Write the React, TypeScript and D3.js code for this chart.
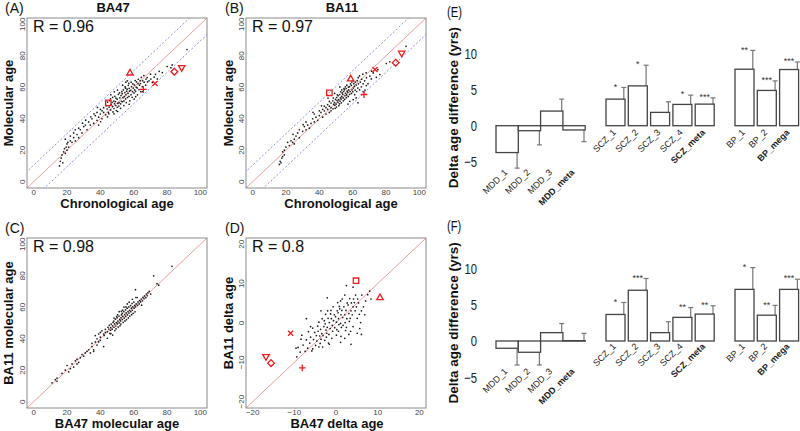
import React from 'react';
import * as d3 from 'd3';

const FONT = '"Liberation Sans", Arial, Helvetica, sans-serif';

// ---------- scatter data ----------
// Panel A: chronological age vs BA47 molecular age
const aPoints: [number, number][] = [
  [15.5,10],[16,13],[16.5,15],[17,17],[17.5,12],[18,19],[18.5,21],[19,18],[19,27],[19.5,22],[20,20],[20,24],[20.5,25],[21,22],[22,26],[22,29],[23,25],[24,28],[24,31],[25,26],[25,33],[26,30],[27,34],[27,28],[28,33],[29,31],[30,35],
  [31,36],[32,33],[33,38],[34,36],[35,40],[36,37],[37,42],[38,39],[38,44],[39,41],[39,36],[40,43],[40,46],[41,40],[41,45],[42,44],[42,47],
  [43.2,42.5],[43.6,48.3],[44.1,46.2],[44.4,50.6],[44.8,44.1],[45.3,47.4],[45.1,43.2],[45.7,51.5],[46.2,45.6],[46.5,49.1],[46.1,52.7],[47.3,47.8],[47.1,50.4],[47.6,44.3],[47.4,53.6],[48.2,46.5],[48.5,49.6],[48.1,51.2],[48.7,54.3],[49.3,48.4],[49.1,50.9],[49.6,45.2],[49.4,53.1],[50.2,47.3],[50.5,49.7],[50.1,52.4],[50.8,55.5],[50.4,44.6],[51.3,50.2],[51.7,53.3],[51.1,48.1],[51.5,56.4],[52.2,49.5],[52.6,51.1],[52.4,54.7],[52.9,57.2],[52.1,46.6],[53.3,50.8],[53.6,53.4],[53.1,55.9],[53.8,58.3],[54.2,51.3],[54.5,54.1],[54.7,56.6],[54.1,48.4],[54.9,60.2],[55.2,52.6],[55.4,55.2],[55.8,57.5],[55.1,59.4],[55.6,50.3],[56.3,53.5],[56.6,56.1],[56.1,58.8],[56.8,61.2],[57.2,54.2],[57.5,57.6],[57.3,59.3],[57.7,51.4],[57.1,62.5],[58.4,55.3],[58.2,58.1],[58.7,60.4],[58.5,63.2],[59.1,53.6],[59.3,57.2],[59.8,59.5],[59.5,62.1],[60.2,56.4],[60.6,58.3],[60.4,61.5],[60.9,64.3],[60.3,52.5],[61.2,57.4],[61.5,60.1],[61.7,63.4],[62.3,55.2],[62.1,59.6],[62.6,62.3],[62.8,65.1],[63.2,58.5],[63.5,61.3],[63.9,64.2],
  [64.3,57.2],[64.1,62.4],[64.6,66.3],[65.2,60.4],[65.4,64.1],[66.3,63.2],[66.1,67.4],[67.2,61.3],[67.4,65.2],[68.3,63.4],[68.1,66.2],[69.2,64.1],[70.3,65.2],[70.1,68.3],[71.2,63.1],[72.3,66.4],[73.1,68.2],[74.2,65.3],[75.3,70.1],[77.2,69.3],[80.1,73.2],[82.3,72.4],[83.1,74.2],[92,84],
  [56.2,64.1],[55.3,63.2],[53.4,61.3],[50.3,58.2],[48.4,57.1],[46.3,55.2],[43.2,51.3],[38.3,47.2],[36.2,43.1],[34.3,41.2],[31.2,39.1],[29.3,37.2],[40.2,38.1],[44.3,41.2],[48.2,43.1],[57.3,49.2],[61.2,54.1],[65.3,57.2]
];
// Panel B: chronological age vs BA11 molecular age
const bPoints: [number, number][] = [
  [16,11],[16.5,13],[17,12],[17.5,15],[18,16],[18,19],[19,20],[19,17],[20,22],[21,25],[22,23],[23,26],[24,25],[25,27],[25,24],[26,29],[27,31],[28,28],[28,33],[30,32],[31,35],[32,33],[32,38],[33,36],[34,34],[35,37],[36,40],[37,38],[37,43],[38,41],[39,39],[40,42],[40,45],[41,44],[42,41],[42,46],[43,45],[43,48],[44,43],[44,47],[45,46],[45,49],[46,44],[46,48],[46,51],[47,47],[47,50],[47,45],
  [48.2,46.3],[48.6,49.2],[48.1,51.4],[48.4,53.1],[49.3,48.5],[49.1,50.2],[49.7,52.3],[49.5,46.6],[50.3,47.4],[50.1,49.3],[50.6,51.6],[50.4,53.5],[50.8,55.2],[51.2,50.4],[51.5,52.1],[51.3,54.6],[51.7,48.3],[52.1,49.5],[52.4,51.2],[52.6,53.3],[52.2,55.4],[52.8,57.1],[53.1,52.5],[53.4,54.2],[53.7,56.4],[53.2,50.1],[53.5,58.3],[54.3,53.2],[54.1,55.5],[54.6,57.3],[54.4,51.4],[54.8,59.1],[55.2,52.3],[55.4,54.6],[55.7,56.2],[55.1,58.4],[55.6,60.3],[56.2,53.4],[56.4,55.1],[56.7,57.5],[56.1,59.2],[56.5,61.3],[57.3,54.2],[57.1,56.6],[57.6,58.3],[57.4,60.1],[58.2,55.5],[58.5,57.3],[58.1,60.4],[58.7,62.2],[59.3,56.1],[59.6,58.4],[59.2,61.2],[59.5,63.3],[60.1,57.2],[60.4,59.5],[60.7,62.3],[60.3,64.1],[61.2,55.3],[61.5,58.2],[61.1,60.5],[61.6,63.2],[62.4,57.3],[62.2,61.4],[62.7,64.2],[63.1,59.5],[63.5,62.2],[63.3,66.1],[64.2,58.4],[64.6,63.3],[64.1,67.2],
  [65.2,60.3],[65.4,65.1],[66.3,62.2],[66.1,68.3],[67.2,64.1],[67.4,58.2],[68.3,66.1],[68.1,69.2],[69.2,62.3],[70.3,67.1],[71.2,65.3],[71.4,70.2],[72.3,69.1],[74.2,66.3],[75.1,71.2],[76.3,68.1],[80.2,75.1],[82.3,76.2],[92,86],
  [63.2,50.1],[60.3,52.2],[57.2,49.3],[62.1,53.2],[58.3,51.1],[45.2,53.1],[41.3,48.2],[36.2,44.1],[30.3,36.2],[24.2,30.1],[52.3,60.2],[49.2,56.1],[66.3,57.2],[68.2,61.1]
];
// Panel C: BA47 molecular age vs BA11 molecular age
const cPoints: [number, number][] = [
  [11,12],[13,14],[14,15],[14,13],[17,18],[19,20],[20,23],[21,19],[22,21],[23,24],[24,22],[25,26],[26,27],[26,24],[27,25],[28,28],[29,30],[30,29],[31,31],[32,32],[33,33],[34,31],[35,35],[35,37],[36,33],[36,32],[37,38],[37,42],[38,40],[38,36],[39,43],[39,38],[40,44],[40,39],[40,41],[41,45],[42,35],[42,43],[43,46],[43,44],
  [44.2,44.5],[44.6,47.3],[45.1,46.2],[45.4,48.5],[45.7,43.4],[46.2,47.1],[46.5,49.3],[46.1,45.4],[47.3,48.2],[47.6,50.4],[47.1,46.1],[47.4,42.3],[48.2,47.3],[48.5,49.4],[48.1,51.2],[48.7,45.2],[49.3,48.1],[49.6,50.3],[49.1,52.4],[49.4,46.3],[49.8,54.1],[50.2,49.4],[50.5,51.2],[50.1,53.3],[50.7,47.4],[50.4,55.2],[51.3,50.1],[51.6,52.3],[51.2,54.4],[51.8,48.2],[52.1,51.3],[52.4,53.4],[52.7,55.1],[52.3,49.3],[52.6,57.4],[53.2,52.2],[53.5,54.3],[53.1,56.1],[53.7,50.4],[53.4,58.2],[54.3,53.1],[54.6,55.4],[54.1,57.2],[54.8,51.3],[55.2,54.2],[55.5,56.4],[55.1,58.3],[55.7,52.1],[55.4,60.2],[56.3,55.1],[56.6,57.3],[56.1,59.4],[56.8,53.2],[57.2,56.3],[57.5,58.1],[57.1,60.2],[57.7,54.4],[58.3,57.2],[58.6,59.4],[58.2,61.1],[58.8,55.3],[59.2,58.1],[59.5,60.3],[59.1,62.4],[59.7,56.2],[60.3,59.4],[60.6,61.2],[60.1,63.3],[60.8,57.1],[61.2,60.3],[61.5,62.1],[61.1,71.2],[62.3,61.2],[62.6,63.4],[62.1,66.2],[63.3,62.1],[63.6,64.3],[64.2,63.4],[64.5,65.2],[64.8,61.3],[65.3,64.1],[65.6,66.3],[66.2,65.4],[66.5,67.2],[67.3,66.1],[67.6,68.4],[68.2,67.3],[68.5,69.2],[69.3,70.1],[70.2,68.4],
  [72,80],[74,75],[75,74],[83,86],
  [42.3,42.1],[44.2,40.3],[46.3,43.2],[48.2,53.1],[51.3,57.2],[54.2,60.1],[57.3,63.2],[59.2,65.1],[61.3,66.2],[56.2,62.1]
];
// Panel D: BA47 delta age vs BA11 delta age
const dPoints: [number, number][] = [
  [-9.4,-8.6],[-9.1,-6.2],[-8.6,-7.4],[-8.2,-3.1],[-7.9,-5.6],[-7.4,-7.2],[-7.1,-4.3],[-6.8,-6.4],[-6.6,-2.2],[-6.3,-5.1],[-6.1,-3.6],[-5.8,-7.1],[-5.6,-1.3],[-5.4,-4.2],[-5.1,-2.4],[-4.9,-5.7],[-4.7,-3.2],[-4.4,-0.8],[-4.6,-4.6],[-4.3,-2.1],[-4.1,0.2],[-3.9,-3.3],[-3.8,-5.2],[-3.7,-1.6],[-3.4,-2.7],[-3.6,-4.1],[-3.3,1.1],[-3.2,-6.1],[-2.9,-0.9],[-3.1,-3.2],[-2.8,0.6],[-2.7,-4.4],[-2.4,-1.8],[-2.6,-0.2],[-2.3,-3.6],[-2.5,2.2],[-2.1,-1.1],[-1.9,1.2],[-2.2,-2.6],[-1.8,-5.1],[-2.0,3.1],[-1.6,0.1],[-1.4,-1.4],[-1.3,2.3],[-1.7,-2.9],[-1.1,1.1],[-0.9,-0.6],[-1.2,3.2],[-0.8,-2.1],[-1.0,-3.9],[-0.6,0.6],[-0.4,2.1],[-0.3,-1.2],[-0.7,4.1],
  [0.1,0.2],[-0.1,1.6],[0.2,-1.7],[0.3,3.1],[0.1,-3.1],[0.4,5.2],[0.6,1.1],[0.7,-0.4],[0.5,2.6],[0.8,4.2],[0.6,-2.1],[1.1,-0.1],[1.2,2.1],[0.9,3.6],[1.3,-1.1],[1.1,5.6],[1.2,-3.4],[1.6,1.4],[1.4,3.2],[1.7,-0.6],[1.5,6.1],[2.1,2.1],[2.2,0.1],[1.9,4.1],[2.3,-1.9],[2.1,7.1],[2.6,1.1],[2.4,3.2],[2.7,5.1],[2.5,-1.1],[3.1,2.4],[2.9,4.6],[3.2,0.4],[3.1,-2.9],[3.3,6.2],[3.6,3.1],[3.4,1.2],[3.7,5.1],[3.5,-2.1],[4.1,4.1],[3.9,2.1],[4.2,6.1],[4.1,-0.9],[4.6,3.1],[4.4,5.2],[4.7,7.1],[5.1,1.2],[4.9,4.1],[5.2,6.1],[5.1,-2.6],[5.6,2.2],[5.4,5.1],[5.7,-1.4],[6.1,3.1],[5.9,0.1],[6.2,7.1],[6.6,4.1],[7.1,5.6],[6.9,2.1],[7.6,7.2],[8.1,8.1],[8.4,6.1],
  [2.5,9.5],[4.1,9.1],[-2.1,6.4],[-3.6,3.1],[-6.1,-0.9],[-7.1,1.1],[-9.6,-6.4],[-4.1,-6.1],[1.1,-4.9],[3.6,-5.4],[6.1,-2.9],[-8.4,-4.1],[-5.6,-6.6],[-1.6,-5.4],[2.1,-3.9]
];

// red highlighted subjects (same order of shapes in every panel)
const markerShapes = ['triUp', 'square', 'plus', 'cross', 'diamond', 'triDown'];
const aMarkers: [number, number][] = [[57.8,69.2],[44.8,50.1],[65.8,58.6],[72.8,62.4],[84.4,69.9],[88.8,72.4]];
const bMarkers: [number, number][] = [[58.8,65.4],[46,56.5],[66.8,55.4],[73.4,71.3],[85.8,75.6],[89.4,81.5]];
const dMarkers: [number, number][] = [[10.56,6.5],[4.8,10.75],[-8.1,-11.4],[-10.9,-2.6],[-15.6,-10.2],[-16.8,-8.6]];

const ageTicks = [0, 20, 40, 60, 80, 100];
const deltaTicks = [-20, -10, 0, 10, 20];
const rValues = ['0.96', '0.97', '0.98', '0.8'];
const bandWidth = 10.5;

// ---------- bar data ----------
const barCategories = ['MDD_1','MDD_2','MDD_3','MDD_meta','SCZ_1','SCZ_2','SCZ_3','SCZ_4','SCZ_meta','BP_1','BP_2','BP_mega'];
const barGroups = ['MDD','MDD','MDD','MDD','SCZ','SCZ','SCZ','SCZ','SCZ','BP','BP','BP'];
const boldCategories = ['MDD_meta','SCZ_meta','BP_mega'];
const eValues = [-3.71,-0.69,2.02,-0.59,3.67,5.5,1.84,2.94,2.98,7.8,4.87,7.76];
const eErrors = [2.15,1.96,1.65,1.61,1.61,2.85,1.46,1.28,0.87,2.6,1.32,1.04];
const eStars = ['','','','','*','*','','*','***','**','***','***'];
const fValues = [-1.0,-1.55,1.15,0.05,3.65,6.98,1.15,3.25,3.7,7.1,3.55,7.1];
const fErrors = [2.3,1.75,1.25,1.0,1.65,1.62,1.5,1.35,1.15,3.0,1.35,1.4];
const fStars = ['','','','','*','***','','**','**','*','**','***'];
const barTicks = [10, 5, 0, -5];

function fmt(v: number) { return v < 0 ? '\u2212' + Math.abs(v) : String(v); }

function markerPath(shape: string, s: number) {
  switch (shape) {
    case 'triUp': return `M0,${-s}L${s*0.95},${s*0.65}L${-s*0.95},${s*0.65}Z`;
    case 'triDown': return `M0,${s}L${s*0.95},${-s*0.65}L${-s*0.95},${-s*0.65}Z`;
    case 'square': return `M${-s*0.8},${-s*0.8}h${s*1.6}v${s*1.6}h${-s*1.6}Z`;
    case 'diamond': return `M0,${-s}L${s},0L0,${s}L${-s},0Z`;
    case 'plus': return `M${-s},0H${s}M0,${-s}V${s}`;
    default: return `M${-s*0.75},${-s*0.75}L${s*0.75},${s*0.75}M${-s*0.75},${s*0.75}L${s*0.75},${-s*0.75}`;
  }
}

type ScatterProps = {
  x0: number; x1: number; y0: number; y1: number;
  domain: [number, number]; ticks: number[];
  points: [number, number][]; markers?: [number, number][];
  bands?: boolean; title?: string; titleX?: number;
  panel: string; panelX: number; panelY: number;
  r: string; xLabel: string; xLabelX: number; xLabelY: number;
  yLabel: string; yLabelX: number;
};

function Scatter(p: ScatterProps) {
  const x = d3.scaleLinear().domain(p.domain).range([p.x0, p.x1]);
  const y = d3.scaleLinear().domain(p.domain).range([p.y0, p.y1]);
  const [lo, hi] = p.domain;
  const diag = d3.line<[number, number]>().x(d => x(d[0])).y(d => y(d[1]));
  const clipId = 'clip' + p.panel.replace(/[()]/g, '');
  const yMid = (p.y0 + p.y1) / 2;
  return (
    <g>
      <defs>
        <clipPath id={clipId}><rect x={p.x0} y={p.y1} width={p.x1 - p.x0} height={p.y0 - p.y1} /></clipPath>
      </defs>
      <g clipPath={`url(#${clipId})`}>
        {p.bands && [bandWidth, -bandWidth].map((o, i) => (
          <path key={i} d={diag([[lo - 20, lo - 20 + o], [hi + 20, hi + 20 + o]]) || ''} stroke="#8080f0" strokeWidth={0.9} strokeDasharray="2,2" fill="none" />
        ))}
        <path d={diag([[lo, lo], [hi, hi]]) || ''} stroke="#f09a9a" strokeWidth={1} fill="none" />
        {p.points.map((d, i) => (
          <circle key={i} cx={x(d[0])} cy={y(d[1])} r={0.85} fill="#1a1a1a" />
        ))}
        {p.markers && p.markers.map((d, i) => (
          <path key={i} transform={`translate(${x(d[0])},${y(d[1])})`} d={markerPath(markerShapes[i], 3.4)} fill="none" stroke="#ee1c1c" strokeWidth={1.3} />
        ))}
      </g>
      <rect x={p.x0} y={p.y1} width={p.x1 - p.x0} height={p.y0 - p.y1} fill="none" stroke="#8a8a8a" strokeWidth={1} />
      {p.ticks.map(t => (
        <text key={'x' + t} x={x(t)} y={p.y0 + 7} fontSize={8} fill="#444" textAnchor="middle" fontFamily={FONT}>{fmt(t)}</text>
      ))}
      {p.ticks.map(t => (
        <text key={'y' + t} transform={`translate(${p.x0 - 2},${y(t)}) rotate(-90)`} fontSize={8} fill="#444" textAnchor="middle" fontFamily={FONT}>{fmt(t)}</text>
      ))}
      <text x={p.x0 + 6} y={p.y1 + 13.5} fontSize={16} fill="#111" fontFamily={FONT}>{'R = ' + p.r}</text>
      {p.title && <text x={p.titleX} y={12} fontSize={13} fontWeight="bold" textAnchor="middle" fill="#111" fontFamily={FONT}>{p.title}</text>}
      <text x={p.panelX} y={p.panelY} fontSize={14} fill="#111" fontFamily={FONT}>{p.panel}</text>
      <text x={p.xLabelX} y={p.xLabelY} fontSize={13} fontWeight="bold" textAnchor="middle" fill="#111" fontFamily={FONT}>{p.xLabel}</text>
      <text transform={`translate(${p.yLabelX},${yMid}) rotate(-90)`} fontSize={13} fontWeight="bold" textAnchor="middle" fill="#111" fontFamily={FONT}>{p.yLabel}</text>
    </g>
  );
}

type BarProps = {
  values: number[]; errors: number[]; stars: string[];
  yZero: number; yTen: number; panel: string; panelY: number;
  mddLabelY: number; otherLabelY: number;
};

const groupStart: Record<string, number> = { MDD: 496, SCZ: 606, BP: 735 };
const groupWidth: Record<string, number> = { MDD: 22.3, SCZ: 19, BP: 19 };
const barStep = 22.3;

function Bars(p: BarProps) {
  const y = d3.scaleLinear().domain([0, 10]).range([p.yZero, p.yTen]);
  const groupIndex: number[] = [];
  const counts: Record<string, number> = {};
  barGroups.forEach(g => { counts[g] = counts[g] || 0; groupIndex.push(counts[g]); counts[g]++; });
  const yMid = (y(10) + y(-5)) / 2;
  return (
    <g fontFamily={FONT}>
      <text transform={`translate(447,${p.panelY}) scale(0.8,1)`} fontSize={14} fill="#111">{p.panel}</text>
      <text transform={`translate(458,${yMid}) rotate(-90)`} fontSize={13.5} fontWeight="bold" textAnchor="middle" fill="#111">Delta age difference (yrs)</text>
      {barTicks.map(t => (
        <text key={t} transform={`translate(477,${y(t) + 5.3}) scale(0.75,1)`} fontSize={15} textAnchor="end" fill="#222">{fmt(t)}</text>
      ))}
      {barCategories.map((c, i) => {
        const g = barGroups[i];
        const xs = d3.scaleLinear().domain([0, 1]).range([groupStart[g], groupStart[g] + barStep]);
        const left = xs(groupIndex[i]);
        const w = groupWidth[g];
        const v = p.values[i];
        const top = Math.min(y(v), y(0));
        const h = Math.max(Math.abs(y(v) - y(0)), 0.5);
        const ex = left + w - 1.2;
        const eEnd = v >= 0 ? v + p.errors[i] : v - p.errors[i];
        const bold = boldCategories.includes(c);
        const ly = g === 'MDD' ? p.mddLabelY : p.otherLabelY;
        return (
          <g key={c}>
            <line x1={ex} x2={ex} y1={y(v)} y2={y(eEnd)} stroke="#777" strokeWidth={1.2} />
            <line x1={ex - 2.5} x2={ex + 2.5} y1={y(eEnd)} y2={y(eEnd)} stroke="#777" strokeWidth={1.2} />
            <rect x={left} y={top} width={w} height={h} fill="white" stroke="#444" strokeWidth={1.3} />
            {p.stars[i] && (
              <text x={left + w / 2} y={y(eEnd) + 2.2} fontSize={9} textAnchor="middle" fill="#333">{p.stars[i]}</text>
            )}
            <text transform={`translate(${left + w / 2 + 1},${ly}) rotate(-45)`} fontSize={9} textAnchor="end" fontWeight={bold ? 'bold' : 'normal'} fill="#1a1a1a">{c}</text>
          </g>
        );
      })}
    </g>
  );
}

export default function App() {
  return (
    <svg width={800} height={431} style={{ position: 'absolute', left: 0, top: 0, background: 'white' }}>
      <rect x={0} y={0} width={800} height={431} fill="white" />
      <Scatter x0={27} x1={207} y0={188} y1={18} domain={[-4, 104]} ticks={ageTicks} points={aPoints} markers={aMarkers} bands
        title="BA47" titleX={113} panel="(A)" panelX={5} panelY={13} r={rValues[0]}
        xLabel="Chronological age" xLabelX={117} xLabelY={208} yLabel="Molecular age" yLabelX={13} />
      <Scatter x0={246} x1={426} y0={188} y1={18} domain={[-4, 104]} ticks={ageTicks} points={bPoints} markers={bMarkers} bands
        title="BA11" titleX={342} panel="(B)" panelX={225} panelY={13} r={rValues[1]}
        xLabel="Chronological age" xLabelX={341} xLabelY={208} yLabel="Molecular age" yLabelX={233} />
      <Scatter x0={27} x1={207} y0={408} y1={238} domain={[-4, 104]} ticks={ageTicks} points={cPoints}
        panel="(C)" panelX={5} panelY={233} r={rValues[2]}
        xLabel="BA47 molecular age" xLabelX={117} xLabelY={428} yLabel="BA11 molecular age" yLabelX={13} />
      <Scatter x0={246} x1={426} y0={408} y1={238} domain={[-21.6, 21.6]} ticks={deltaTicks} points={dPoints} markers={dMarkers}
        panel="(D)" panelX={225} panelY={233} r={rValues[3]}
        xLabel="BA47 delta age" xLabelX={337} xLabelY={428} yLabel="BA11 delta age" yLabelX={233} />
      <Bars values={eValues} errors={eErrors} stars={eStars} yZero={125.7} yTen={53.3} panel="(E)" panelY={17} mddLabelY={173} otherLabelY={133} />
      <Bars values={fValues} errors={fErrors} stars={fStars} yZero={341} yTen={268.3} panel="(F)" panelY={231} mddLabelY={372} otherLabelY={347} />
    </svg>
  );
}
